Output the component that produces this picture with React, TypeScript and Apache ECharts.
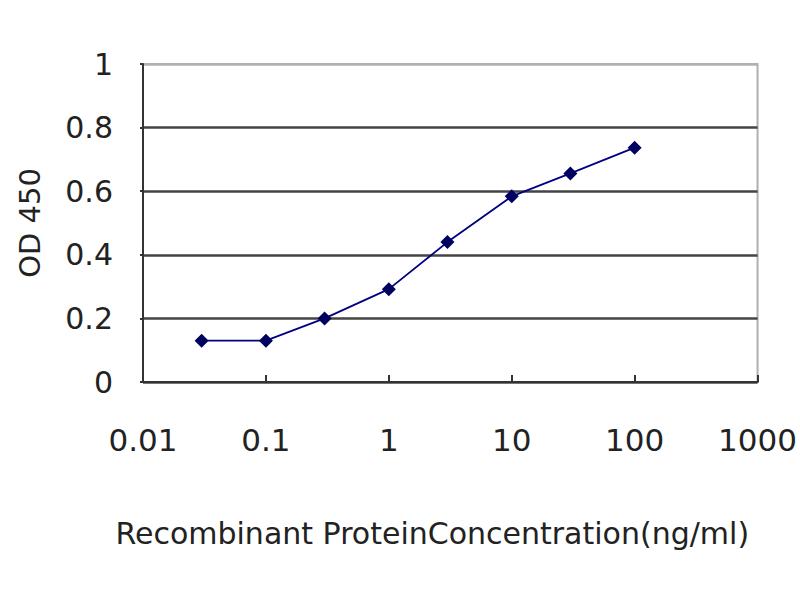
import React, { useEffect, useRef } from "react";
import * as echarts from "echarts";

const concentrations = [0.03, 0.1, 0.3, 1, 3, 10, 30, 100];
const odValues = [0.13, 0.13, 0.2, 0.292, 0.44, 0.584, 0.656, 0.737];
const xTitle = "Recombinant ProteinConcentration(ng/ml)";
const yTitle = "OD 450";

export default function App() {
  const ref = useRef<HTMLDivElement>(null);
  useEffect(() => {
    if (!ref.current) return;
    const chart = echarts.init(ref.current, null, { renderer: "svg" });
    const font = "DejaVu Sans";
    chart.setOption({
      animation: false,
      backgroundColor: "#ffffff",
      grid: {
        left: 143,
        right: 42,
        top: 64,
        bottom: 218,
        show: true,
        borderColor: "#b0b0b0",
        borderWidth: 2,
      },
      xAxis: {
        type: "log",
        logBase: 10,
        min: 0.01,
        max: 1000,
        name: xTitle,
        nameLocation: "middle",
        nameGap: 136,
        nameTextStyle: { fontFamily: font, fontSize: 30, color: "#222", padding: [0, 36, 0, 0] },
        axisLine: { show: true, lineStyle: { color: "#333", width: 2 } },
        axisTick: { show: true, inside: true, length: 7, lineStyle: { color: "#333", width: 2 } },
        minorTick: { show: false },
        splitLine: { show: false },
        axisLabel: {
          margin: 42,
          fontFamily: font,
          fontSize: 31,
          color: "#222",
          formatter: (v: number) => String(v),
        },
      },
      yAxis: {
        type: "value",
        min: 0,
        max: 1,
        interval: 0.2,
        name: yTitle,
        nameLocation: "middle",
        nameGap: 99,
        nameTextStyle: { fontFamily: font, fontSize: 29, color: "#222" },
        axisLine: { show: true, lineStyle: { color: "#333", width: 2 } },
        axisTick: { show: true, length: 3, lineStyle: { color: "#333", width: 2 } },
        splitLine: {
          show: true,
          lineStyle: {
            color: ["#444", "#444", "#444", "#444", "#444", "#b0b0b0"],
            width: 2.5,
          },
        },
        axisLabel: { margin: 30, fontFamily: font, fontSize: 30, color: "#222" },
      },
      series: [
        {
          type: "line",
          data: concentrations.map((c, i) => [c, odValues[i]]),
          symbol: "diamond",
          symbolSize: 14,
          lineStyle: { color: "#000080", width: 1.8 },
          itemStyle: { color: "#000060" },
        },
      ],
    });
    return () => chart.dispose();
  }, []);
  return (
    <div
      ref={ref}
      style={{ position: "fixed", left: 0, top: 0, width: 800, height: 600 }}
    />
  );
}
